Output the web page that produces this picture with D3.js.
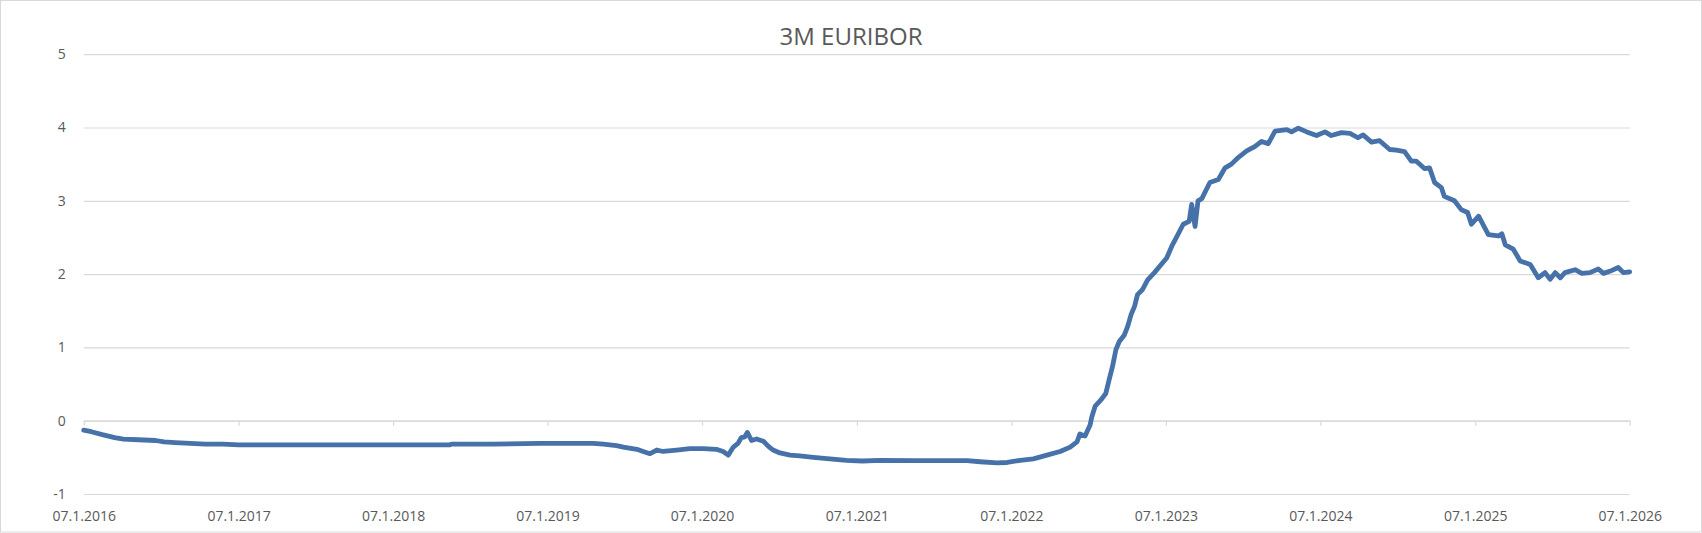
<!DOCTYPE html>
<html>
<head>
<meta charset="utf-8">
<script src="https://cdn.jsdelivr.net/npm/d3@7"></script>
<style>
    body { margin: 0; background: #fff; }
    svg { display: block; }
    text { font-family: "Open Sans", "Liberation Sans", sans-serif; fill: #595959; }
</style>
</head>
<body>
<svg id="chart"></svg>
<script>
// chart data
var title = '3M EURIBOR';

var dates = [
    '2016-01-07', '2016-01-25', '2016-02-20', '2016-03-20', '2016-04-10', '2016-05-15', '2016-06-25', '2016-07-15',
    '2016-08-10', '2016-09-15', '2016-10-20', '2016-12-01', '2017-01-07', '2017-04-01', '2017-07-01', '2017-10-01',
    '2018-01-07', '2018-05-20', '2018-05-25', '2018-09-01', '2018-12-20', '2019-04-25', '2019-05-19', '2019-06-19',
    '2019-07-05', '2019-08-06', '2019-08-21', '2019-09-06', '2019-09-22', '2019-10-07', '2019-11-08', '2019-12-09',
    '2020-01-10', '2020-02-10', '2020-02-26', '2020-03-09', '2020-03-21', '2020-04-01', '2020-04-09', '2020-04-17',
    '2020-04-23', '2020-05-03', '2020-05-15', '2020-05-31', '2020-06-12', '2020-06-23', '2020-07-09', '2020-08-02',
    '2020-08-25', '2020-09-26', '2020-11-04', '2020-12-13', '2021-01-20', '2021-03-03', '2021-05-21', '2021-08-07',
    '2021-09-24', '2021-10-25', '2021-12-04', '2021-12-28', '2022-01-28', '2022-02-28', '2022-04-01', '2022-05-02',
    '2022-05-26', '2022-06-11', '2022-06-18', '2022-06-30', '2022-07-12', '2022-07-16', '2022-07-24', '2022-08-06',
    '2022-08-18', '2022-08-26', '2022-09-03', '2022-09-11', '2022-09-19', '2022-10-01', '2022-10-09', '2022-10-17',
    '2022-10-25', '2022-11-01', '2022-11-13', '2022-11-25', '2022-12-11', '2022-12-27', '2023-01-09', '2023-01-21',
    '2023-02-01', '2023-02-17', '2023-03-03', '2023-03-09', '2023-03-17', '2023-03-24', '2023-04-02', '2023-04-21',
    '2023-05-11', '2023-05-27', '2023-06-11', '2023-06-27', '2023-07-17', '2023-08-05', '2023-08-21', '2023-09-06',
    '2023-09-22', '2023-10-20', '2023-10-31', '2023-11-16', '2023-12-06', '2023-12-29', '2024-01-18', '2024-02-02',
    '2024-02-26', '2024-03-17', '2024-04-05', '2024-04-17', '2024-05-07', '2024-05-26', '2024-06-19', '2024-07-05',
    '2024-07-24', '2024-08-09', '2024-08-21', '2024-09-09', '2024-09-21', '2024-10-03', '2024-10-19', '2024-10-26',
    '2024-11-19', '2024-12-05', '2024-12-20', '2024-12-29', '2025-01-15', '2025-02-07', '2025-03-03', '2025-03-11',
    '2025-03-19', '2025-04-07', '2025-04-23', '2025-05-17', '2025-06-05', '2025-06-21', '2025-07-03', '2025-07-15',
    '2025-07-27', '2025-08-07', '2025-08-31', '2025-09-16', '2025-10-05', '2025-10-25', '2025-11-06', '2025-11-26',
    '2025-12-11', '2025-12-23', '2026-01-07'
];

var rates = [
    -0.13, -0.15, -0.19, -0.23, -0.25, -0.26, -0.27, -0.29,
    -0.30, -0.31, -0.32, -0.32, -0.33, -0.33, -0.33, -0.33,
    -0.33, -0.33, -0.32, -0.32, -0.31, -0.31, -0.32, -0.34,
    -0.36, -0.39, -0.42, -0.45, -0.40, -0.42, -0.40, -0.38,
    -0.38, -0.39, -0.42, -0.47, -0.36, -0.31, -0.23, -0.22,
    -0.16, -0.27, -0.25, -0.28, -0.35, -0.40, -0.44, -0.47,
    -0.48, -0.50, -0.52, -0.54, -0.55, -0.54, -0.545, -0.545,
    -0.545, -0.56, -0.575, -0.57, -0.54, -0.52, -0.47, -0.42,
    -0.36, -0.29, -0.18, -0.21, -0.06, 0.05, 0.20, 0.28,
    0.37, 0.56, 0.74, 0.97, 1.08, 1.17, 1.29, 1.45,
    1.56, 1.72, 1.79, 1.92, 2.02, 2.13, 2.22, 2.38,
    2.50, 2.68, 2.72, 2.95, 2.65, 3.00, 3.03, 3.25,
    3.29, 3.45, 3.50, 3.59, 3.68, 3.74, 3.81, 3.78,
    3.95, 3.97, 3.94, 3.99, 3.94, 3.89, 3.94, 3.89,
    3.93, 3.92, 3.86, 3.90, 3.80, 3.82, 3.70, 3.69,
    3.67, 3.54, 3.54, 3.44, 3.45, 3.25, 3.18, 3.06,
    3.00, 2.88, 2.84, 2.68, 2.79, 2.54, 2.52, 2.55,
    2.40, 2.34, 2.18, 2.13, 1.95, 2.02, 1.93, 2.02,
    1.95, 2.02, 2.06, 2.01, 2.02, 2.07, 2.01, 2.05,
    2.09, 2.02, 2.03
];

var yTicks = [-1, 0, 1, 2, 3, 4, 5];
var xTickDates = ['2016-01-07', '2017-01-07', '2018-01-07', '2019-01-07', '2020-01-07', '2021-01-07',
    '2022-01-07', '2023-01-07', '2024-01-07', '2025-01-07', '2026-01-07'];

// sizes
var W = 1702, H = 533;
var margin = { top: 54.2, right: 72.3, bottom: 39, left: 83.7 };
var width = W - margin.left - margin.right;
var height = H - margin.top - margin.bottom;

var parseDate = d3.timeParse('%Y-%m-%d');
var formatTick = d3.timeFormat('%d.%-m.%Y');

var points = dates.map(function (d, i) { return { date: parseDate(d), rate: rates[i] }; });
var tickValues = xTickDates.map(parseDate);

var x = d3.scaleTime()
    .domain([tickValues[0], tickValues[tickValues.length - 1]])
    .range([0, width]);
var y = d3.scaleLinear().domain([-1, 5]).range([height, 0]);

var svg = d3.select('#chart').attr('width', W).attr('height', H);

// outer chart border
svg.append('rect')
    .attr('x', 0.5).attr('y', 0.5)
    .attr('width', W - 1).attr('height', H - 1.5)
    .attr('fill', '#fff')
    .attr('stroke', '#d9d9d9');

svg.append('text')
    .attr('x', W / 2)
    .attr('y', 45)
    .attr('text-anchor', 'middle')
    .style('font-size', '24px')
    .text(title);

var graph = svg.append('g')
    .attr('transform', 'translate(' + margin.left + ',' + margin.top + ')');

// horizontal gridlines + y labels (plain hyphen for minus, like excel)
var yAxis = d3.axisLeft(y)
    .tickValues(yTicks)
    .tickSize(-width)
    .tickPadding(18)
    .tickFormat(function (d) { return String(d); });

graph.append('g')
    .attr('class', 'axis axis--y')
    .call(yAxis)
    .call(function (g) {
        g.select('.domain').remove();
        g.selectAll('.tick line').attr('stroke', '#d9d9d9').attr('stroke-width', 1.2);
        g.selectAll('.tick text').style('font-size', '14px').attr('fill', '#595959');
    });

// category axis sits on zero, labels along the bottom
var xAxis = d3.axisBottom(x)
    .tickValues(tickValues)
    .tickSize(5)
    .tickSizeOuter(0)
    .tickFormat(formatTick);

graph.append('g')
    .attr('class', 'axis axis--x')
    .attr('transform', 'translate(0,' + y(0) + ')')
    .call(xAxis)
    .call(function (g) {
        g.select('.domain').attr('stroke', '#d9d9d9').attr('stroke-width', 1.2);
        g.selectAll('.tick line').attr('stroke', '#d9d9d9').attr('stroke-width', 1.2);
        g.selectAll('.tick text')
            .attr('y', height - y(0) + 17)
            .style('font-size', '14px')
            .attr('fill', '#595959');
    });

var line = d3.line()
    .x(function (d) { return x(d.date); })
    .y(function (d) { return y(d.rate); });

graph.append('path')
    .datum(points)
    .attr('class', 'line')
    .attr('d', line)
    .attr('fill', 'none')
    .attr('stroke', '#4672a9')
    .attr('stroke-width', 4.8)
    .attr('stroke-linejoin', 'round')
    .attr('stroke-linecap', 'round');
</script>
</body>
</html>
